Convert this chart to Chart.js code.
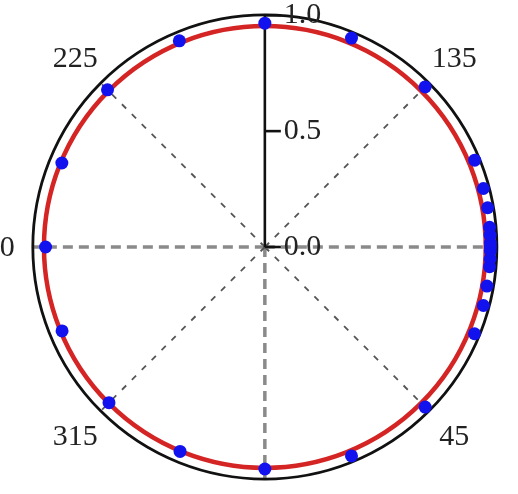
<!DOCTYPE html>
<html>
<head>
<meta charset="utf-8">
<script src="https://cdn.jsdelivr.net/npm/chart.js@4/dist/chart.umd.min.js"></script>
<style>
  body { margin: 0; background: #fff; }
  canvas { display: block; }
</style>
</head>
<body>
<canvas id="polarChart" width="518" height="494"></canvas>
<script>
// measured points: angle in degrees, normalised radius
const angles = [0, 22.5, 45, 67.5, 75, 80, 85, 87, 89, 90, 91, 93, 95, 100, 105, 112.5, 135, 157.5, 180, 202.5, 225, 247.5, 270, 292.5, 315, 337.5];
const radii  = [0.958, 0.976, 0.977, 0.978, 0.975, 0.972, 0.972, 0.972, 0.972, 0.972, 0.972, 0.972, 0.972, 0.975, 0.975, 0.979, 0.977, 0.976, 0.966, 0.963, 0.959, 0.947, 0.945, 0.946, 0.95, 0.955];
const fitRadius = 0.952;
const angleTicks = [0, 45, 90, 135, 180, 225, 270, 315];
const radialTicks = [0.0, 0.5, 1.0];

document.addEventListener('DOMContentLoaded', function() {
    // 0 deg at the bottom, counter-clockwise
    function toXY(deg, r) {
        const t = deg * Math.PI / 180;
        return { x: r * Math.sin(t), y: -r * Math.cos(t) };
    }

    const points = angles.map(function(a, i) { return toXY(a, radii[i]); });

    const polarGrid = {
        id: 'polarGrid',
        beforeDatasetsDraw: function(chart) {
            const ctx = chart.ctx;
            const xs = chart.scales.x, ys = chart.scales.y;
            const cx = xs.getPixelForValue(0), cy = ys.getPixelForValue(0);
            const px = function(p) { return [xs.getPixelForValue(p.x), ys.getPixelForValue(p.y)]; };
            const R = xs.getPixelForValue(1) - cx;
            ctx.save();

            // spokes
            angleTicks.forEach(function(a) {
                if (a === 180) return;
                const end = px(toXY(a, 1));
                ctx.beginPath();
                if (a % 90 === 0) {
                    ctx.strokeStyle = '#8a8a8a';
                    ctx.lineWidth = 3.5;
                    ctx.setLineDash([10, 6]);
                } else {
                    ctx.strokeStyle = '#555';
                    ctx.lineWidth = 1.8;
                    ctx.setLineDash([6, 8]);
                }
                ctx.moveTo(cx, cy);
                ctx.lineTo(end[0], end[1]);
                ctx.stroke();
            });
            ctx.setLineDash([]);

            // outer circle
            ctx.beginPath();
            ctx.strokeStyle = '#111';
            ctx.lineWidth = 2.8;
            ctx.arc(cx, cy, R, 0, Math.PI * 2);
            ctx.stroke();

            // radial axis (towards 180)
            const top = px(toXY(180, 1));
            ctx.beginPath();
            ctx.lineWidth = 2.6;
            ctx.moveTo(cx, cy);
            ctx.lineTo(top[0], top[1]);
            ctx.stroke();

            ctx.font = '30px "Liberation Serif", "Times New Roman", Times, serif';
            ctx.fillStyle = '#222';
            ctx.textBaseline = 'middle';
            ctx.textAlign = 'left';
            radialTicks.forEach(function(v) {
                const p = px(toXY(180, v));
                ctx.beginPath();
                ctx.moveTo(p[0], p[1]);
                ctx.lineTo(p[0] + 16, p[1]);
                ctx.stroke();
                ctx.fillText(v.toFixed(1), p[0] + 19, p[1]);
            });

            // angle labels (side labels sit a bit further out)
            ctx.textAlign = 'center';
            angleTicks.forEach(function(a) {
                const r = (a % 180 === 90) ? 1.175 : 1.155;
                const p = px(toXY(a, r));
                ctx.fillText(String(a), p[0], p[1] + 1);
            });

            // fitted circle
            ctx.beginPath();
            ctx.strokeStyle = '#d42424';
            ctx.lineWidth = 4.5;
            ctx.arc(cx, cy, xs.getPixelForValue(fitRadius) - cx, 0, Math.PI * 2);
            ctx.stroke();
            ctx.restore();
        }
    };

    new Chart(document.getElementById('polarChart').getContext('2d'), {
        type: 'scatter',
        data: {
            datasets: [{
                label: 'measured',
                data: points,
                backgroundColor: '#1212ee',
                borderWidth: 0,
                pointRadius: 6.5,
                showLine: false
            }]
        },
        options: {
            responsive: false,
            animation: false,
            layout: { padding: 0 },
            plugins: {
                legend: { display: false },
                tooltip: { enabled: false }
            },
            scales: {
                x: { type: 'linear', min: -265 / 238, max: 253 / 238, display: false },
                y: { type: 'linear', min: -247 / 238, max: 247 / 238, display: false }
            }
        },
        plugins: [polarGrid]
    });
});
</script>
</body>
</html>
